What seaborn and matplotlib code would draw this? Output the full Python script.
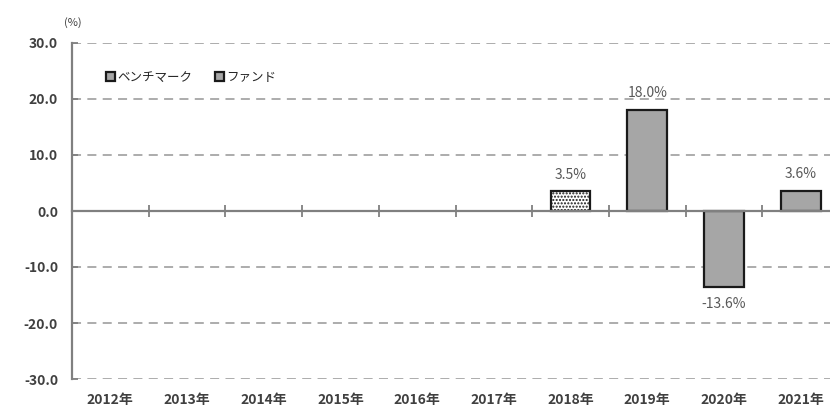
import pandas as pd
import matplotlib.pyplot as plt
import seaborn as sns
import numpy as np

# Data
years = ['2012年', '2013年', '2014年', '2015年', '2016年', '2017年', '2018年', '2019年', '2020年', '2021年']
benchmark = [np.nan, np.nan, np.nan, np.nan, np.nan, np.nan, 3.5, np.nan, np.nan, np.nan]
fund = [np.nan, np.nan, np.nan, np.nan, np.nan, np.nan, np.nan, 18.0, -13.6, 3.6]
series_names = ['ベンチマーク', 'ファンド']

df = pd.DataFrame({'year': years * 2,
                   'value': benchmark + fund,
                   'series': [series_names[0]] * len(years) + [series_names[1]] * len(years)})

sns.set_style('white')
plt.rcParams['font.family'] = ['Noto Sans CJK JP', 'DejaVu Sans']
plt.rcParams['hatch.color'] = '#808080'

fig = plt.figure(figsize=(8.3, 4.15), dpi=100)
ax = fig.add_axes([72 / 830, 1 - 379 / 415, 767 / 830, 336 / 415])

sns.barplot(data=df, x='year', y='value', hue='series', dodge=False, width=0.52,
            palette={series_names[0]: 'white', series_names[1]: '#a6a6a6'},
            edgecolor='#1a1a1a', linewidth=1.6, ax=ax, legend=True)

# dotted fill for the benchmark bar
for bar, name in zip(ax.containers, series_names):
    if name == series_names[0]:
        for p in bar.patches:
            p.set_hatch('.....')
    ax.bar_label(bar, labels=['' if np.isnan(v) else f'{v:.1f}%' for v in bar.datavalues],
                 padding=7, fontsize=10, color='#595959')

ax.set_ylim(-30, 30)
ax.set_xlim(-0.5, 9.5)
ax.set_yticks(np.arange(-30, 31, 10))
ax.set_yticklabels([f'{t:.1f}' for t in np.arange(-30, 31, 10)], fontsize=10,
                   color='#404040', fontweight='bold')
ax.yaxis.grid(True, linestyle=(0, (5, 3.5)), color='#a6a6a6', linewidth=1.3)
ax.set_axisbelow(True)
ax.tick_params(axis='y', left=True, direction='in', length=4, color='#808080', width=1.3, pad=10)
ax.set_xlabel('')
ax.set_ylabel('')

# zero line with ticks at category boundaries
for s in ['top', 'right']:
    ax.spines[s].set_visible(False)
ax.spines['left'].set_color('#808080')
ax.spines['left'].set_linewidth(1.6)
ax.spines['bottom'].set_position(('data', 0))
ax.spines['bottom'].set_color('#808080')
ax.spines['bottom'].set_linewidth(1.6)
ax.set_xticks(np.arange(0.5, 9, 1), minor=True)
ax.tick_params(axis='x', which='minor', bottom=True, direction='inout', length=8,
               color='#808080', width=1.3)
ax.tick_params(axis='x', which='major', length=0, labelbottom=False)

secx = ax.secondary_xaxis('bottom')
secx.set_xticks(range(len(years)), labels=years)
secx.tick_params(length=0, labelsize=10, labelcolor='#404040', pad=10)
secx.spines['bottom'].set_visible(False)
for lab in secx.get_xticklabels():
    lab.set_fontweight('bold')

ax.text(-0.01, 1.05, '(%)', transform=ax.transAxes, fontsize=8, color='#404040')

leg = ax.legend(loc='upper left', bbox_to_anchor=(0.03, 0.95), ncol=2, frameon=False,
                fontsize=9, handlelength=0.7, handleheight=0.7, handletextpad=0.2,
                columnspacing=1.8)
for h in leg.legend_handles:
    h.set_hatch(None)
    h.set_facecolor('#a6a6a6')
    h.set_edgecolor('#1a1a1a')

fig.savefig('out.png', dpi=100)
